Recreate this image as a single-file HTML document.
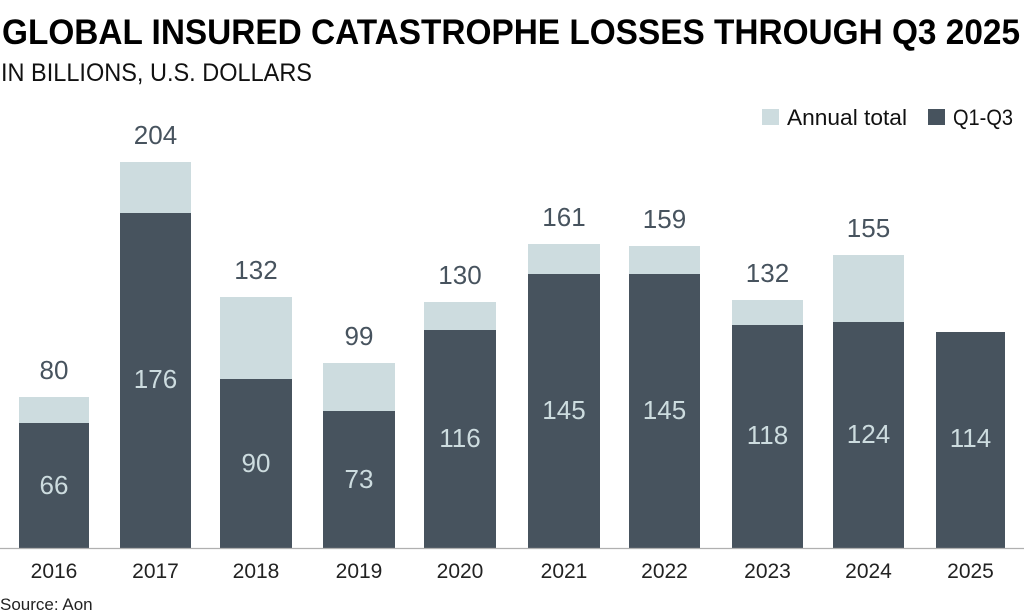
<!DOCTYPE html>
<html>
<head>
<meta charset="utf-8">
<style>
html,body{margin:0;padding:0;background:#fff;}
svg{display:block;}
text{font-family:"Liberation Sans",sans-serif;}
</style>
</head>
<body>
<svg width="1024" height="614" viewBox="0 0 1024 614" xmlns="http://www.w3.org/2000/svg">
<rect width="1024" height="614" fill="#fff"/>
<text x="2" y="44" font-size="35" font-weight="bold" fill="#000" textLength="1018" lengthAdjust="spacingAndGlyphs">GLOBAL INSURED CATASTROPHE LOSSES THROUGH Q3 2025</text>
<text x="1" y="81" font-size="25" fill="#111" textLength="311" lengthAdjust="spacingAndGlyphs">IN BILLIONS, U.S. DOLLARS</text>

<!-- legend -->
<rect x="762" y="109" width="17" height="16" fill="#cddcdf"/>
<text x="787" y="125" font-size="22" fill="#111" textLength="120" lengthAdjust="spacingAndGlyphs">Annual total</text>
<rect x="928" y="109" width="17" height="16" fill="#47535e"/>
<text x="953" y="125" font-size="22" fill="#111" textLength="60" lengthAdjust="spacingAndGlyphs">Q1-Q3</text>

<!-- bars -->
<g>
<rect x="19" y="397" width="70" height="151" fill="#cddcdf"/>
<rect x="19" y="423" width="70" height="125" fill="#47535e"/>
<rect x="120" y="162" width="71" height="386" fill="#cddcdf"/>
<rect x="120" y="213" width="71" height="335" fill="#47535e"/>
<rect x="220" y="297" width="72" height="251" fill="#cddcdf"/>
<rect x="220" y="379" width="72" height="169" fill="#47535e"/>
<rect x="323" y="363" width="72" height="185" fill="#cddcdf"/>
<rect x="323" y="411" width="72" height="137" fill="#47535e"/>
<rect x="424" y="302" width="72" height="246" fill="#cddcdf"/>
<rect x="424" y="330" width="72" height="218" fill="#47535e"/>
<rect x="528" y="244" width="72" height="304" fill="#cddcdf"/>
<rect x="528" y="274" width="72" height="274" fill="#47535e"/>
<rect x="629" y="246" width="71" height="302" fill="#cddcdf"/>
<rect x="629" y="274" width="71" height="274" fill="#47535e"/>
<rect x="732" y="300" width="71" height="248" fill="#cddcdf"/>
<rect x="732" y="325" width="71" height="223" fill="#47535e"/>
<rect x="833" y="255" width="71" height="293" fill="#cddcdf"/>
<rect x="833" y="322" width="71" height="226" fill="#47535e"/>
<rect x="936" y="332" width="69" height="216" fill="#47535e"/>
</g>

<line x1="0" y1="548.5" x2="1024" y2="548.5" stroke="#b0b0b0" stroke-width="1.2"/>

<!-- top labels -->
<g font-size="26" fill="#47535e" text-anchor="middle">
<text x="54" y="379">80</text>
<text x="155.5" y="144">204</text>
<text x="256" y="279">132</text>
<text x="359" y="345">99</text>
<text x="460" y="284">130</text>
<text x="564" y="226">161</text>
<text x="664.5" y="228">159</text>
<text x="767.5" y="282">132</text>
<text x="868.5" y="237">155</text>
</g>

<!-- inside labels -->
<g font-size="26" fill="#cddcdf" text-anchor="middle">
<text x="54" y="494">66</text>
<text x="155.5" y="388">176</text>
<text x="256" y="472">90</text>
<text x="359" y="488">73</text>
<text x="460" y="447">116</text>
<text x="564" y="419">145</text>
<text x="664.5" y="419">145</text>
<text x="767.5" y="444">118</text>
<text x="868.5" y="443">124</text>
<text x="970.5" y="447">114</text>
</g>

<!-- year labels -->
<g font-size="21" fill="#222" text-anchor="middle">
<text x="54" y="578">2016</text>
<text x="155.5" y="578">2017</text>
<text x="256" y="578">2018</text>
<text x="359" y="578">2019</text>
<text x="460" y="578">2020</text>
<text x="564" y="578">2021</text>
<text x="664.5" y="578">2022</text>
<text x="767.5" y="578">2023</text>
<text x="868.5" y="578">2024</text>
<text x="970.5" y="578">2025</text>
</g>

<text x="0" y="610" font-size="17" fill="#222">Source: Aon</text>
</svg>
</body>
</html>
